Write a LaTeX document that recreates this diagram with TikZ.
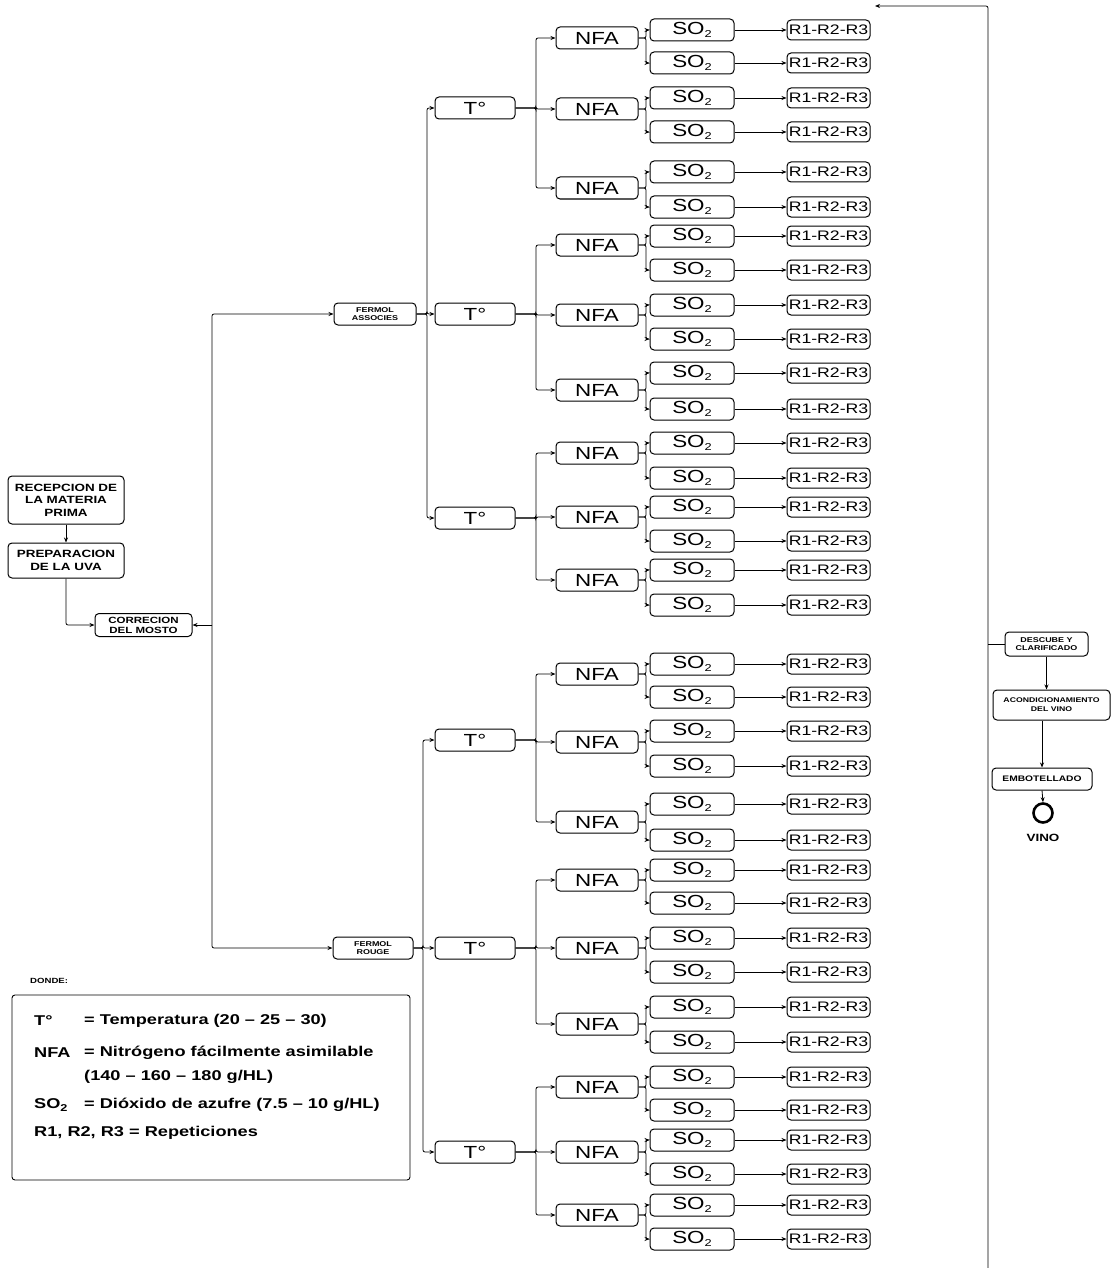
\documentclass[tikz,border=0pt]{standalone}
\usepackage{fontspec}
\setmainfont{Liberation Sans}[FakeStretch=1.28]
\usetikzlibrary{arrows.meta}
\newcommand{\subtwo}{\raisebox{-0.15em}{\fontsize{10}{10}\selectfont 2}}
\begin{document}
\begin{tikzpicture}[x=1pt,y=-1pt,
  box/.style={draw, rounded corners=4pt, line width=1pt, inner sep=0pt, align=center},
  arr/.style={-{Stealth[length=5pt,width=4pt]}, line width=0.8pt, rounded corners=2pt},
  ln/.style={line width=0.8pt},
  tbox/.style={box, minimum width=80pt, minimum height=22pt, font=\fontsize{17.5}{19}\selectfont},
  nbox/.style={box, minimum width=82pt, minimum height=22pt, font=\fontsize{17.5}{19}\selectfont},
  sbox/.style={box, minimum width=84pt, minimum height=22pt, font=\fontsize{17.5}{19}\selectfont},
  rbox/.style={box, minimum width=83pt, minimum height=20pt, font=\fontsize{13.8}{15}\selectfont},
  tiny/.style={box, font=\bfseries\fontsize{7}{8.5}\selectfont},
  lg/.style={anchor=west, inner sep=0pt, font=\bfseries\fontsize{14.2}{16}\selectfont}
]
\useasboundingbox (0,0) rectangle (1112,1268);

% ---------- left column ----------
\node[box, minimum width=116pt, minimum height=48pt, font=\bfseries\fontsize{10.5}{12.5}\selectfont] (rec) at (66,500) {RECEPCION DE\\LA MATERIA\\PRIMA};
\node[box, minimum width=116pt, minimum height=35pt, font=\bfseries\fontsize{10.5}{12.5}\selectfont] (prep) at (66,560.5) {PREPARACION\\DE LA UVA};
\node[box, minimum width=97pt, minimum height=23pt, font=\bfseries\fontsize{9}{10}\selectfont] (cor) at (143.5,625) {CORRECION\\DEL MOSTO};
\draw[arr] (rec) -- (prep);
\draw[arr] (prep.south) |- (cor.west);

\node[tiny, minimum width=82pt, minimum height=22pt] (fa) at (375,314) {FERMOL\\ASSOCIES};
\node[tiny, minimum width=80pt, minimum height=22pt] (fr) at (373,948) {FERMOL\\ROUGE};
\coordinate (jc) at (212,625);
\draw[arr] (jc) -- (cor.east);
\draw[arr] (jc) |- (fa.west);
\draw[arr] (jc) |- (fr.west);

\coordinate (ja) at (427,314);
\coordinate (jb) at (423,948);

% ---------- tree ----------
\foreach \ti/\ty/\nl in {
  1/108/{38/30/63,109/98/132,188/172/207},
  2/314/{245/236/270,315/305/339,390/373/409},
  3/518/{453/443/478,517/507/541,580/570/605},
  4/740/{674/664/697,742/731/766,822/804/840},
  5/948/{880/870/903,948/938/972,1024/1007/1042},
  6/1152/{1087/1077/1110,1152/1140/1174,1215/1205/1239}} {
  \node[tbox] (t\ti) at (475,\ty) {T°};
  \coordinate (jt\ti) at (536,\ty);
  \ifnum\ti<4
    \draw[arr] (fa.east) -- (ja) |- (t\ti.west);
  \else
    \draw[arr] (fr.east) -- (jb) |- (t\ti.west);
  \fi
  \foreach \ny/\sa/\sb [count=\k] in \nl {
    \node[nbox] (n\ti-\k) at (597,\ny) {NFA};
    \draw[arr] (t\ti.east) -- (jt\ti) |- (n\ti-\k.west);
    \coordinate (jn\ti-\k) at (646,\ny);
    \node[sbox] (s\ti-\k-a) at (692,\sa) {SO\subtwo};
    \node[sbox] (s\ti-\k-b) at (692,\sb) {SO\subtwo};
    \node[rbox] (r\ti-\k-a) at (828.5,\sa) {R1-R2-R3};
    \node[rbox] (r\ti-\k-b) at (828.5,\sb) {R1-R2-R3};
    \draw[arr] (n\ti-\k.east) -- (jn\ti-\k) |- (s\ti-\k-a.west);
    \draw[arr] (n\ti-\k.east) -- (jn\ti-\k) |- (s\ti-\k-b.west);
    \draw[arr] (s\ti-\k-a.east) -- (r\ti-\k-a.west);
    \draw[arr] (s\ti-\k-b.east) -- (r\ti-\k-b.west);
  }
}

% ---------- legend ----------
\node[anchor=west, inner sep=0pt, font=\bfseries\fontsize{7.5}{9}\selectfont] (donde) at (30,981) {DONDE:};
\node[draw, rounded corners=3pt, line width=0.9pt, minimum width=398pt, minimum height=185pt, inner sep=0pt] (leg) at (211,1087.5) {};
\node[lg] (l1a) at (34,1021) {T°};
\node[lg] (l1b) at (84,1021) {= Temperatura (20 – 25 – 30)};
\node[lg] (l2a) at (34,1053) {NFA};
\node[lg] (l2b) at (84,1053) {= Nitrógeno fácilmente asimilable};
\node[lg] (l2c) at (84,1077) {(140 – 160 – 180 g/HL)};
\node[lg] (l3a) at (34,1105) {SO\textsubscript{2}};
\node[lg] (l3b) at (84,1105) {= Dióxido de azufre (7.5 – 10 g/HL)};
\node[lg] (l4a) at (34,1133) {R1, R2, R3 = Repeticiones};

% ---------- right column ----------
\coordinate (vt) at (988,6);
\coordinate (vb) at (988,1268);
\coordinate (vl) at (875,6);
\draw[arr] (vb) -- (vt) -- (vl);
\node[tiny, minimum width=83pt, minimum height=24pt, font=\bfseries\fontsize{7}{8.5}\selectfont] (desc) at (1046.5,644) {DESCUBE Y\\CLARIFICADO};
\coordinate (jd) at (988,644);
\draw[ln] (jd) -- (desc.west);
\node[tiny, minimum width=117pt, minimum height=30pt, font=\bfseries\fontsize{6.8}{9}\selectfont] (acond) at (1051.5,705) {ACONDICIONAMIENTO\\DEL VINO};
\node[tiny, minimum width=100pt, minimum height=22pt, font=\bfseries\fontsize{8}{9}\selectfont] (embot) at (1042,779) {EMBOTELLADO};
\node[draw, circle, line width=2.6pt, minimum size=19pt, inner sep=0pt] (vino) at (1043,813) {};
\node[inner sep=0pt, font=\bfseries\fontsize{10.5}{12}\selectfont] (vinolbl) at (1043,838) {VINO};
\draw[arr] (desc.south) -- (desc.south |- acond.north);
\draw[arr] (acond.south -| embot.north) -- (embot.north);
\draw[arr] (embot.south) -- (vino.north);
\end{tikzpicture}
\end{document}
